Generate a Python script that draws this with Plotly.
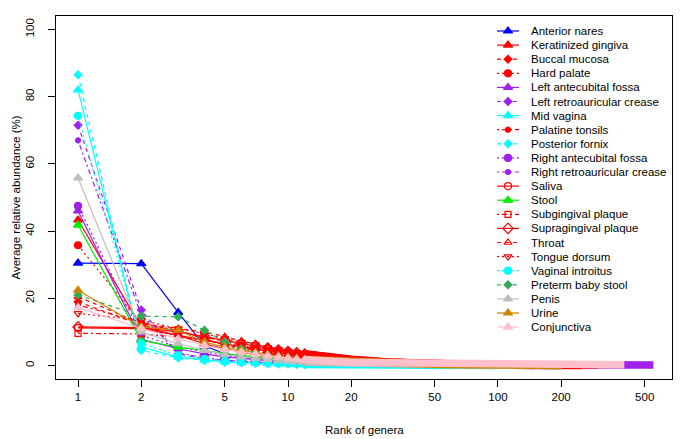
import plotly.graph_objects as go

# ---------------- data ----------------
series_names = [
    "Anterior nares", "Keratinized gingiva", "Buccal mucosa", "Hard palate",
    "Left antecubital fossa", "Left retroauricular crease", "Mid vagina",
    "Palatine tonsils", "Posterior fornix", "Right antecubital fossa",
    "Right retroauricular crease", "Saliva", "Stool", "Subgingival plaque",
    "Supragingival plaque", "Throat", "Tongue dorsum", "Vaginal introitus",
    "Preterm baby stool", "Penis", "Urine", "Conjunctiva",
]

head_ranks = [1, 2, 3, 4, 5, 6, 7, 8, 9, 10, 11, 12]
tail_ranks = [15, 20, 30, 50, 75, 100, 150, 200, 250, 300, 350, 400, 450, 550]

N = None
head_anterior_nares = [30.5, 30.3, 15.8, 5.8, 3.6, 2.6, 2.0, 1.6, 1.3, 1.1, 0.95, 0.8]
tail_anterior_nares = [0.65, 0.5, 0.35, 0.22, 0.15, 0.1, 0.06, 0.03, N, N, N, N, N, N]
head_keratinized_gingiva = [43.3, 11.5, 9.0, 6.5, 5.0, 4.0, 3.2, 2.7, 2.3, 2.0, 1.7, 1.5]
tail_keratinized_gingiva = [1.1, 0.8, 0.5, 0.3, 0.18, 0.1, 0.05, N, N, N, N, N, N, N]
head_buccal_mucosa = [19.0, 12.0, 10.5, 8.0, 6.3, 5.2, 4.5, 3.8, 3.3, 2.9, 2.5, 2.2]
tail_buccal_mucosa = [1.7, 1.2, 0.75, 0.4, 0.25, 0.15, 0.08, 0.04, 0.02, N, N, N, N, N]
head_hard_palate = [35.8, 12.5, 10.5, 8.0, 6.0, 5.0, 4.2, 3.5, 3.0, 2.6, 2.3, 2.0]
tail_hard_palate = [1.4, 1.0, 0.6, 0.35, 0.2, 0.12, 0.05, N, N, N, N, N, N, N]
head_left_antecubital = [46.0, 7.8, 5.0, 3.5, 2.6, 2.1, 1.7, 1.4, 1.2, 1.0, 0.9, 0.8]
tail_left_antecubital = [0.65, 0.5, 0.4, 0.3, 0.25, 0.22, 0.2, 0.18, 0.17, 0.16, 0.15, 0.15, 0.14, 0.13]
head_left_retro = [71.5, 16.5, 3.5, 2.0, 1.4, 1.1, 0.9, 0.8, 0.7, 0.6, 0.5, 0.45]
tail_left_retro = [0.38, 0.3, 0.22, 0.15, 0.1, 0.08, 0.06, 0.05, 0.04, 0.03, N, N, N, N]
head_mid_vagina = [82.0, 5.5, 2.5, 1.6, 1.1, 0.9, 0.7, 0.6, 0.5, 0.45, 0.4, 0.35]
tail_mid_vagina = [0.3, 0.22, 0.15, 0.08, 0.05, 0.03, N, N, N, N, N, N, N, N]
head_palatine_tonsils = [18.0, 13.0, 10.0, 8.5, 7.0, 6.0, 5.0, 4.3, 3.7, 3.2, 2.8, 2.4]
tail_palatine_tonsils = [1.8, 1.4, 1.0, 0.8, 0.72, 0.66, 0.6, 0.55, N, N, N, N, N, N]
head_posterior_fornix = [86.5, 4.5, 2.3, 1.5, 1.0, 0.8, 0.65, 0.55, 0.5, 0.45, 0.4, 0.35]
tail_posterior_fornix = [0.3, 0.22, 0.15, 0.08, 0.05, 0.03, N, N, N, N, N, N, N, N]
head_right_antecubital = [47.5, 9.0, 5.5, 4.0, 3.0, 2.4, 2.0, 1.7, 1.4, 1.2, 1.0, 0.9]
tail_right_antecubital = [0.7, 0.55, 0.42, 0.32, 0.27, 0.24, 0.21, 0.19, 0.18, 0.17, 0.16, 0.15, 0.14, N]
head_right_retro = [67.0, 15.0, 3.8, 2.3, 1.6, 1.2, 1.0, 0.85, 0.75, 0.65, 0.55, 0.5]
tail_right_retro = [0.42, 0.33, 0.24, 0.16, 0.11, 0.09, 0.07, 0.05, 0.04, 0.03, N, N, N, N]
head_saliva = [11.2, 11.0, 9.0, 7.5, 6.5, 5.5, 4.8, 4.3, 3.8, 3.4, 3.0, 2.7]
tail_saliva = [2.0, 1.5, 0.9, 0.45, 0.25, 0.15, 0.08, 0.04, 0.02, 0.01, N, N, N, N]
head_stool = [41.8, 7.5, 5.5, 4.5, 3.5, 3.0, 2.6, 2.2, 1.9, 1.7, 1.5, 1.3]
tail_stool = [1.1, 0.8, 0.5, 0.3, 0.2, 0.12, 0.06, 0.03, N, N, N, N, N, N]
head_subgingival = [9.6, 9.4, 8.5, 7.5, 6.5, 5.8, 5.2, 4.6, 4.2, 3.8, 3.5, 3.2]
tail_subgingival = [2.4, 1.7, 1.0, 0.5, 0.3, 0.2, 0.1, 0.05, 0.02, N, N, N, N, N]
head_supragingival = [11.5, 11.3, 10.0, 8.7, 7.5, 6.5, 5.8, 5.2, 4.6, 4.2, 3.8, 3.4]
tail_supragingival = [2.5, 1.8, 1.0, 0.5, 0.3, 0.2, 0.1, 0.05, 0.02, N, N, N, N, N]
head_throat = [20.5, 12.5, 11.0, 10.0, 8.6, 7.3, 6.5, 5.5, 4.9, 4.4, 4.0, 3.7]
tail_throat = [2.8, 2.0, 1.2, 0.6, 0.35, 0.22, 0.1, 0.05, N, N, N, N, N, N]
head_tongue_dorsum = [15.5, 13.5, 11.0, 9.5, 8.0, 7.0, 6.2, 5.4, 4.8, 4.3, 3.9, 3.5]
tail_tongue_dorsum = [2.6, 1.9, 1.1, 0.55, 0.32, 0.2, 0.1, 0.05, N, N, N, N, N, N]
head_vaginal_introitus = [74.3, 6.5, 3.0, 2.0, 1.4, 1.1, 0.9, 0.8, 0.7, 0.6, 0.55, 0.5]
tail_vaginal_introitus = [0.4, 0.3, 0.2, 0.12, 0.07, 0.05, 0.03, N, N, N, N, N, N, N]
head_preterm_stool = [21.0, 14.7, 14.5, 10.5, 7.0, 5.0, 3.8, 3.0, 2.4, 2.0, 1.6, 1.3]
tail_preterm_stool = [1.0, 0.7, 0.4, 0.2, 0.1, 0.05, N, N, N, N, N, N, N, N]
head_penis = [55.8, 10.0, 6.5, 4.5, 3.3, 2.6, 2.1, 1.8, 1.5, 1.3, 1.1, 1.0]
tail_penis = [0.85, 0.65, 0.45, 0.28, 0.18, 0.12, 0.07, 0.04, N, N, N, N, N, N]
head_urine = [22.4, 11.5, 10.5, 7.0, 5.5, 4.5, 3.8, 3.2, 2.8, 2.4, 2.1, 1.8]
tail_urine = [1.5, 1.1, 0.7, 0.4, 0.25, 0.15, 0.08, 0.04, N, N, N, N, N, N]
head_conjunctiva = [17.3, 11.0, 8.0, 6.0, 4.8, 4.0, 3.4, 2.9, 2.5, 2.2, 1.9, 1.7]
tail_conjunctiva = [1.3, 1.0, 0.8, 0.65, 0.55, 0.5, 0.45, 0.4, 0.35, 0.3, 0.28, 0.25, N, N]

head_values = [
    head_anterior_nares, head_keratinized_gingiva, head_buccal_mucosa, head_hard_palate,
    head_left_antecubital, head_left_retro, head_mid_vagina, head_palatine_tonsils,
    head_posterior_fornix, head_right_antecubital, head_right_retro, head_saliva,
    head_stool, head_subgingival, head_supragingival, head_throat, head_tongue_dorsum,
    head_vaginal_introitus, head_preterm_stool, head_penis, head_urine, head_conjunctiva,
]
tail_values = [
    tail_anterior_nares, tail_keratinized_gingiva, tail_buccal_mucosa, tail_hard_palate,
    tail_left_antecubital, tail_left_retro, tail_mid_vagina, tail_palatine_tonsils,
    tail_posterior_fornix, tail_right_antecubital, tail_right_retro, tail_saliva,
    tail_stool, tail_subgingival, tail_supragingival, tail_throat, tail_tongue_dorsum,
    tail_vaginal_introitus, tail_preterm_stool, tail_penis, tail_urine, tail_conjunctiva,
]

x_tick_values = [1, 2, 5, 10, 20, 50, 100, 200, 500]
y_tick_values = [0, 20, 40, 60, 80, 100]

# ---------------- styles ----------------
RED, BLUE, PURPLE, CYAN = "#FF0000", "#0000FF", "#A020F0", "#00FFFF"
GREEN, DKGREEN, GRAY, ORANGE, PINK = "#00EE00", "#33AA55", "#BEBEBE", "#CD8500", "#FFC0CB"
colors = [BLUE, RED, RED, RED, PURPLE, PURPLE, CYAN, RED, CYAN, PURPLE, PURPLE, RED,
          GREEN, RED, RED, RED, RED, CYAN, DKGREEN, GRAY, ORANGE, PINK]
SOLID, DASH, DOT, DOTDASH = "solid", "4px,4px", "2px,3px", "2px,3px,5px,3px"
dashes = [SOLID, SOLID, DASH, DOT, SOLID, DASH, SOLID, DOTDASH, DASH, DOT, DOTDASH, SOLID,
          SOLID, DOTDASH, SOLID, DASH, DOT, DOT, DASH, SOLID, SOLID, SOLID]
symbols = ["triangle-up", "triangle-up", "diamond", "circle", "triangle-up", "diamond",
           "triangle-up", "circle", "diamond", "circle", "circle", "circle-open",
           "triangle-up", "square-open", "diamond-open", "triangle-up-open",
           "triangle-down-open", "circle", "diamond", "triangle-up", "triangle-up", "triangle-up"]
sizes = [8, 8, 6, 7, 8, 6, 8, 5, 6, 7, 5, 7, 8, 6, 8, 7, 7, 7, 6, 8, 8, 8]

FONT = "Liberation Sans, Arial, Helvetica, sans-serif"
fig = go.Figure()

for name, col, dsh, sym, sz, hv, tv in zip(series_names, colors, dashes, symbols, sizes,
                                            head_values, tail_values):
    tx = [head_ranks[-1]] + [r for r, v in zip(tail_ranks, tv) if v is not None]
    ty = [hv[-1]] + [v for v in tv if v is not None]
    fig.add_trace(go.Scatter(x=tx, y=ty, mode="lines", showlegend=False, hoverinfo="skip",
                             line=dict(color=col, width=sz - 0.5)))
    fig.add_trace(go.Scatter(x=head_ranks, y=hv, mode="lines+markers", name=name,
                             showlegend=False, hoverinfo="skip",
                             line=dict(color=col, width=1.2, dash=dsh),
                             marker=dict(symbol=sym, size=sz, color=col,
                                         line=dict(color=col, width=1.2))))

# manual legend in page-pixel coordinates (overlay axes)
for i, (name, col, dsh, sym, sz) in enumerate(zip(series_names, colors, dashes, symbols, sizes)):
    yy = 31 + i * 14.1
    fig.add_trace(go.Scatter(x=[497, 519], y=[yy, yy], mode="lines", xaxis="x2", yaxis="y2",
                             showlegend=False, hoverinfo="skip",
                             line=dict(color=col, width=1.2, dash=dsh)))
    fig.add_trace(go.Scatter(x=[508], y=[yy], mode="markers", xaxis="x2", yaxis="y2",
                             showlegend=False, hoverinfo="skip",
                             marker=dict(symbol=sym, size=sz, color=col,
                                         line=dict(color=col, width=1.2))))
    fig.add_annotation(x=529, y=yy, xref="x2", yref="y2", text=name, showarrow=False,
                       xanchor="left", yanchor="middle",
                       font=dict(family=FONT, size=11.5, color="black"))

fig.add_annotation(x=0.5, y=0, xref="paper", yref="paper", yshift=-51, text="Rank of genera",
                   showarrow=False, xanchor="center", yanchor="middle",
                   font=dict(family=FONT, size=11.5, color="black"))
fig.add_annotation(x=0, y=0.5, xref="paper", yref="paper", xshift=-41,
                   text="Average relative abundance (%)", textangle=-90,
                   showarrow=False, xanchor="center", yanchor="middle",
                   font=dict(family=FONT, size=11.5, color="black"))

# page has an 8px body margin: figure is 677x431 placed at (8, 8)
fig.update_layout(
    width=677, height=431,
    margin=dict(l=48, r=13, t=8, b=60),
    paper_bgcolor="white", plot_bgcolor="white",
    font=dict(family=FONT, size=11.5, color="black"),
    xaxis=dict(type="log", range=[-0.105, 2.829], tickvals=x_tick_values,
               ticktext=[str(v) for v in x_tick_values], ticks="outside", ticklen=7,
               tickcolor="black", showgrid=False, zeroline=False,
               showline=True, mirror=True, linecolor="black", linewidth=1,
               tickfont=dict(family=FONT, size=11.5)),
    yaxis=dict(range=[-4, 104], tickvals=y_tick_values, ticks="outside", ticklen=7,
               tickcolor="black", showgrid=False, zeroline=False,
               showline=True, mirror=True, linecolor="black", linewidth=1,
               tickangle=-90, ticklabelstandoff=9, tickfont=dict(family=FONT, size=11.5)),
    xaxis2=dict(overlaying="x", anchor="y2", range=[56, 672], visible=False),
    yaxis2=dict(overlaying="y", anchor="x2", range=[379, 16], visible=False),
)

fig.write_html("out.html")
